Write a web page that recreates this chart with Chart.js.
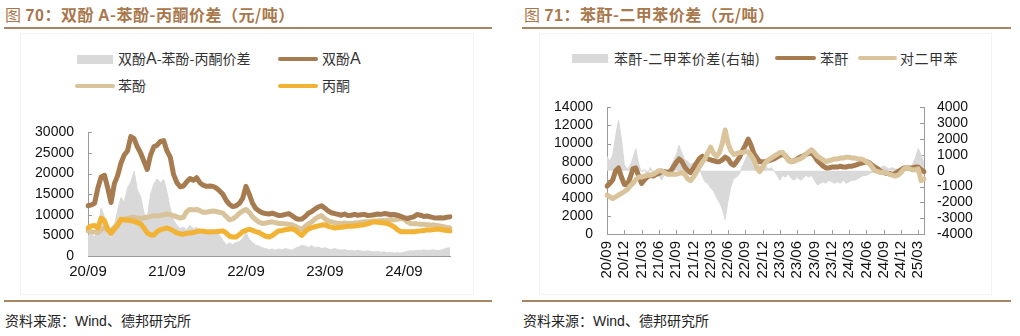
<!DOCTYPE html>
<html>
<head>
<meta charset="utf-8">
<script src="https://cdn.jsdelivr.net/npm/chart.js@4.4.1/dist/chart.umd.min.js"></script>
<style>
  body { margin: 0; width: 1020px; height: 336px; background: #fff; position: relative; overflow: hidden;
         font-family: "Noto Sans CJK SC", sans-serif; }
  .abs { position: absolute; }
  .title { top: 2px; font-size: 16px; color: #A8774C; font-weight: bold; white-space: nowrap; letter-spacing: 0.5px; }
  .title .fig { font-weight: normal; }
  .title .num { font-family: "Liberation Sans", Arial, sans-serif; }
  .rule { height: 2px; background: #A98462; }
  .frame { border: 1px solid #f2f2f2; }
  .src { top: 310px; font-size: 14px; color: #222; white-space: nowrap; }
  .src .en { font-family: "Liberation Sans", Arial, sans-serif; }
  .leg { font-size: 14px; color: #333; line-height: 18px; white-space: nowrap; }
  .leg.r { font-size: 14px; letter-spacing: 0.5px; }
  .leg .en { font-family: "Liberation Sans", Arial, sans-serif; font-size: 16px; }
  .sw { height: 4px; border-radius: 2px; }
</style>
</head>
<body>

<!-- left panel -->
<div class="abs title" style="left:5px;"><span class="fig">图 </span><span class="num">70</span>：双酚 <span class="num">A</span>-苯酚-丙酮价差（元/吨）</div>
<div class="abs rule" style="left:4px; top:27px; width:488px;"></div>
<div class="abs frame" style="left:20px; top:33px; width:452px; height:260px;"></div>
<div class="abs" style="left:77px; top:55px; width:36px; height:9px; background:#D9D9D9;"></div>
<div class="abs leg" style="left:118px; top:49px;">双酚<span class="en">A</span>-苯酚-丙酮价差</div>
<div class="abs sw" style="left:278px; top:57px; width:40px; background:#A67B50;"></div>
<div class="abs leg" style="left:322px; top:49px;">双酚<span class="en">A</span></div>
<div class="abs sw" style="left:75px; top:84px; width:40px; background:#D8C39A;"></div>
<div class="abs leg" style="left:118px; top:76px;">苯酚</div>
<div class="abs sw" style="left:278px; top:84px; width:40px; background:#F2B233;"></div>
<div class="abs leg" style="left:322px; top:76px;">丙酮</div>
<canvas id="bpaChart" class="abs" style="left:0; top:110px;" width="470" height="180"></canvas>
<div class="abs rule" style="left:4px; top:300px; width:488px;"></div>
<div class="abs src" style="left:5px;">资料来源：<span class="en">Wind</span>、德邦研究所</div>

<!-- right panel -->
<div class="abs title" style="left:524px;"><span class="fig">图 </span><span class="num">71</span>：苯酐-二甲苯价差（元/吨）</div>
<div class="abs rule" style="left:522px; top:27px; width:489px;"></div>
<div class="abs frame" style="left:539px; top:33px; width:451px; height:260px;"></div>
<div class="abs" style="left:572px; top:54px; width:36px; height:9px; background:#D9D9D9;"></div>
<div class="abs leg r" style="left:614px; top:49px;">苯酐-二甲苯价差(右轴)</div>
<div class="abs sw" style="left:775px; top:56px; width:41px; background:#A67B50;"></div>
<div class="abs leg r" style="left:820px; top:49px;">苯酐</div>
<div class="abs sw" style="left:858px; top:56px; width:39px; background:#D9C49B;"></div>
<div class="abs leg r" style="left:900px; top:49px;">对二甲苯</div>
<canvas id="paChart" class="abs" style="left:520px; top:85px;" width="480" height="215"></canvas>
<div class="abs rule" style="left:522px; top:300px; width:489px;"></div>
<div class="abs src" style="left:523px;">资料来源：<span class="en">Wind</span>、德邦研究所</div>

<script>
// half-month points from 2020/09 to 2025/03
var halfMonths = [];
for (var i = 0; i <= 110; i++) {
  var mon = 9 + Math.floor(i / 2);
  var yy = 20 + Math.floor((mon - 1) / 12);
  var mm = ((mon - 1) % 12) + 1;
  halfMonths.push(yy + '/' + (mm < 10 ? '0' + mm : mm));
}

// 双酚A / 苯酚 / 丙酮 (元/吨)
var bpaPrice = [
  12200,12400,12800,16500,19200,19600,16500,13000,17500,19500,
  22500,24500,25500,29000,28500,26500,25000,23000,21000,24500,
  26500,26900,27800,28000,25500,24000,19800,17800,16800,17000,
  18000,18800,18400,19000,17800,17200,16900,17000,16900,16500,
  15800,15000,13500,12500,12000,12200,12800,14000,16900,15000,
  12800,11500,10900,10500,10300,10200,10400,10100,9800,9900,
  10100,10300,9800,9200,8900,9000,9600,10400,10800,11400,
  11900,12200,11600,10900,10500,10300,10100,9900,10200,9800,
  9900,10100,9900,10000,10100,9800,9900,10000,10200,10100,
  10300,10200,10000,10100,9900,9600,9300,9100,9300,9500,
  10100,9900,9600,9700,9500,9300,9200,9300,9200,9400,
  9500
];
var phenolPrice = [
  6100,5900,5800,5700,6400,6800,6300,6100,7000,7600,
  8500,8900,9100,9300,9400,9200,9100,9300,9400,9600,
  9800,9700,9800,10000,10200,10000,9800,9500,9200,9400,
  10800,11300,11200,11300,11000,10600,10600,10800,10900,10800,
  10600,10400,9600,8800,9000,9600,10400,10900,11300,10600,
  9500,8800,8200,7900,8000,8200,8300,8100,7900,7900,
  7800,7700,7600,7200,6800,6500,7200,7800,8300,9000,
  9500,9800,9000,8500,8300,8100,7900,7900,8000,7900,
  7900,8000,8100,8200,8300,8300,8400,8500,8500,8600,
  8600,8700,8800,8800,8900,9100,9000,8300,7900,7800,
  7800,7700,7700,7600,7500,7500,7400,7300,7100,6900,
  6800
];
var acetonePrice = [
  6800,7300,7400,6800,9200,8600,6500,5500,6500,7500,
  8900,8800,8700,8600,8400,8100,7800,6800,5600,5100,
  5100,5900,6400,6600,6800,6500,6100,5600,5400,5300,
  5500,5600,5700,5900,6100,6000,5900,5800,5900,5900,
  6000,6100,5600,4800,4600,4600,5200,5900,6200,6500,
  6200,5900,5700,5200,4800,4600,5000,5600,6100,6200,
  6400,6500,6600,6300,5600,5000,5900,6600,6900,7100,
  7300,7500,7600,7200,7000,6800,6900,7000,7100,7200,
  7200,7300,7400,7500,7600,7800,8100,8300,8200,8100,
  8000,7900,7500,7100,6400,5900,5900,5900,5900,5900,
  6000,6100,6200,6300,6300,6400,6500,6500,6300,6200,
  6100
];
var bpaSpread = [
  5000,5400,4600,6500,11700,9500,6800,3800,7500,11000,
  14200,13000,16500,18000,20600,16000,14500,10500,9000,15000,
  17500,18700,17800,18600,15500,11500,8700,7500,6600,7000,
  6400,7400,6600,7000,6200,6600,6000,6400,6100,5600,
  5000,3800,2700,3200,2800,3300,3500,4200,5800,4000,
  3300,2600,2400,2000,1800,1500,1700,1400,1700,1500,
  1800,1600,1400,1900,2200,2600,2400,2100,2500,2000,
  2200,1800,2000,1700,1600,1800,1500,1400,1600,1300,
  1400,1200,1400,1200,1100,1300,1100,1000,1100,900,
  1000,800,900,700,800,700,900,1100,1300,1200,
  1400,1300,1500,1300,1400,1500,1300,1400,1600,1900,
  2000
];

// 苯酐 / 对二甲苯 (元/吨), 价差 (右轴)
var paPrice = [
  5300,5600,6000,7000,7300,6300,5500,5400,6200,7200,
  7300,6400,5600,6000,6300,6500,6400,6600,6700,6900,
  6900,6800,6900,7400,7900,8300,8000,7400,7000,6800,
  7300,7800,8300,8600,8400,8300,8200,8100,8000,8000,
  8200,8500,8300,7800,7600,8000,8500,9200,9800,10500,
  9800,8900,8400,8000,8000,8000,8100,8200,8300,8500,
  8700,8800,8600,8200,8000,8100,8300,8500,8600,8800,
  8900,9000,8600,8100,7800,7500,7300,7300,7400,7400,
  7400,7500,7400,7400,7500,7500,7600,7700,7800,7900,
  8000,7900,7600,7400,7200,6900,6800,6700,6700,6600,
  6700,6900,7100,7300,7300,7300,7300,7400,7400,7100,
  6900
];
var pxPrice = [
  4300,4100,3900,4100,4300,4500,4700,4900,5300,5600,
  6000,6300,6300,6400,6500,6500,6600,6800,7000,7000,
  6800,6600,6600,6600,6600,6700,6800,6600,6100,5900,
  6300,6800,7400,7900,8300,9000,9600,8900,8600,9000,
  10000,11500,10000,9200,8800,8900,9000,9000,9100,9100,
  8700,8200,7300,6900,7400,7900,8200,8400,8600,8800,
  9000,9000,8600,8100,8000,8100,8200,8300,8500,8800,
  9100,9300,9000,8600,8400,8200,8000,8100,8200,8300,
  8300,8400,8400,8500,8500,8400,8400,8300,8300,8200,
  8000,7800,7400,7000,6900,6800,6800,6800,6600,6500,
  6400,6500,6800,7200,7300,7200,7100,7100,7200,5900,
  6100
];
var paSpread = [
  900,600,1000,2200,3200,2000,400,100,300,800,
  1400,400,-100,100,-300,200,-100,-400,-300,-600,
  -200,0,200,600,1000,1600,1100,700,600,400,
  500,300,200,-300,-700,-800,-1100,-1300,-1700,-2000,
  -2400,-3100,-1900,-1000,-500,-400,-200,300,700,1100,
  800,400,500,300,200,300,100,200,0,-300,
  -600,-300,-400,-200,-500,-600,-400,-600,-500,-300,
  -400,-300,-600,-900,-800,-700,-800,-600,-700,-800,
  -700,-800,-600,-800,-700,-600,-600,-500,-400,-300,
  -300,-200,-100,-100,100,200,300,200,100,200,
  100,100,0,100,100,200,400,800,1400,1000,
  500
];

var BROWN = '#A67B50', BEIGE = '#D8C39A', ORANGE = '#F2B233', GREY = '#D9D9D9', AXIS = '#9a9a9a';

Chart.defaults.font.family = '"Liberation Sans", Arial, sans-serif';
Chart.defaults.font.size = 14;
Chart.defaults.color = '#111';

// short tick marks pointing into the plot
var innerTicks = {
  id: 'innerTicks',
  beforeDatasetsDraw: function (chart) {
    var ctx = chart.ctx, area = chart.chartArea;
    ctx.save();
    ctx.strokeStyle = AXIS;
    ctx.lineWidth = 1;
    Object.keys(chart.scales).forEach(function (id) {
      var s = chart.scales[id];
      s.ticks.forEach(function (t, i) {
        var p = Math.round(s.getPixelForTick(i)) + 0.5;
        ctx.beginPath();
        if (s.axis === 'x') { ctx.moveTo(p, area.bottom); ctx.lineTo(p, area.bottom - 4); }
        else if (s.position === 'left') { ctx.moveTo(area.left, p); ctx.lineTo(area.left + 4, p); }
        else { ctx.moveTo(area.right, p); ctx.lineTo(area.right - 4, p); }
        ctx.stroke();
      });
    });
    ctx.restore();
  }
};

function plain(v) { return String(v); }

function line(label, data, color, order, axis) {
  return { label: label, data: data, borderColor: color, backgroundColor: color, borderWidth: 5,
           pointRadius: 0, tension: 0, fill: false, order: order, yAxisID: axis || 'y',
           borderJoinStyle: 'round', borderCapStyle: 'round' };
}
function area(label, data, order, axis) {
  return { label: label, data: data, borderColor: GREY, backgroundColor: GREY, borderWidth: 1,
           pointRadius: 0, tension: 0, fill: 'origin', order: order, yAxisID: axis || 'y' };
}
function axisBase(width) {
  return {
    grid: { drawOnChartArea: false, drawTicks: false },
    border: { display: true, color: AXIS, width: 1 },
    afterFit: function (s) { if (s.axis === 'x') s.height = width; else s.width = width; }
  };
}

// 双酚A-苯酚-丙酮价差
var bx = axisBase(34);
bx.ticks = { autoSkip: false, maxRotation: 0, padding: 7, font: { size: 15 } };
bx.afterBuildTicks = function (s) { s.ticks = s.ticks.filter(function (t) { return t.value % 24 === 0; }); };
var by = axisBase(88);
by.min = 0; by.max = 30000;
by.ticks = { stepSize: 5000, padding: 14, autoSkip: false, callback: plain };

new Chart(document.getElementById('bpaChart'), {
  type: 'line',
  data: {
    labels: halfMonths,
    datasets: [
      line('双酚A', bpaPrice, BROWN, 1),
      line('丙酮', acetonePrice, ORANGE, 2),
      line('苯酚', phenolPrice, BEIGE, 3),
      area('双酚A-苯酚-丙酮价差', bpaSpread, 4)
    ]
  },
  options: {
    responsive: false, animation: false,
    layout: { padding: { top: 11, right: 20, left: 0, bottom: 0 } },
    plugins: { legend: { display: false }, tooltip: { enabled: false } },
    scales: { x: bx, y: by }
  },
  plugins: [innerTicks]
});

// 苯酐-二甲苯价差
var px = axisBase(66);
px.ticks = { autoSkip: false, minRotation: 90, maxRotation: 90, padding: 7, font: { size: 15 } };
px.afterBuildTicks = function (s) { s.ticks = s.ticks.filter(function (t) { return t.value % 6 === 0; }); };
var py = axisBase(87);
py.position = 'left'; py.min = 0; py.max = 14000;
py.ticks = { stepSize: 2000, padding: 14, autoSkip: false, callback: plain };
var py1 = axisBase(76);
py1.position = 'right'; py1.min = -4000; py1.max = 4000;
py1.ticks = { stepSize: 1000, padding: 13, autoSkip: false, callback: plain };

new Chart(document.getElementById('paChart'), {
  type: 'line',
  data: {
    labels: halfMonths,
    datasets: [
      area('苯酐-二甲苯价差(右轴)', paSpread, 3, 'y1'),
      line('苯酐', paPrice, BROWN, 2),
      line('对二甲苯', pxPrice, '#D9C49B', 1)
    ]
  },
  options: {
    responsive: false, animation: false,
    layout: { padding: { top: 10, right: 0, left: 0, bottom: 0 } },
    plugins: { legend: { display: false }, tooltip: { enabled: false } },
    scales: { x: px, y: py, y1: py1 }
  },
  plugins: [innerTicks]
});
</script>
</body>
</html>
